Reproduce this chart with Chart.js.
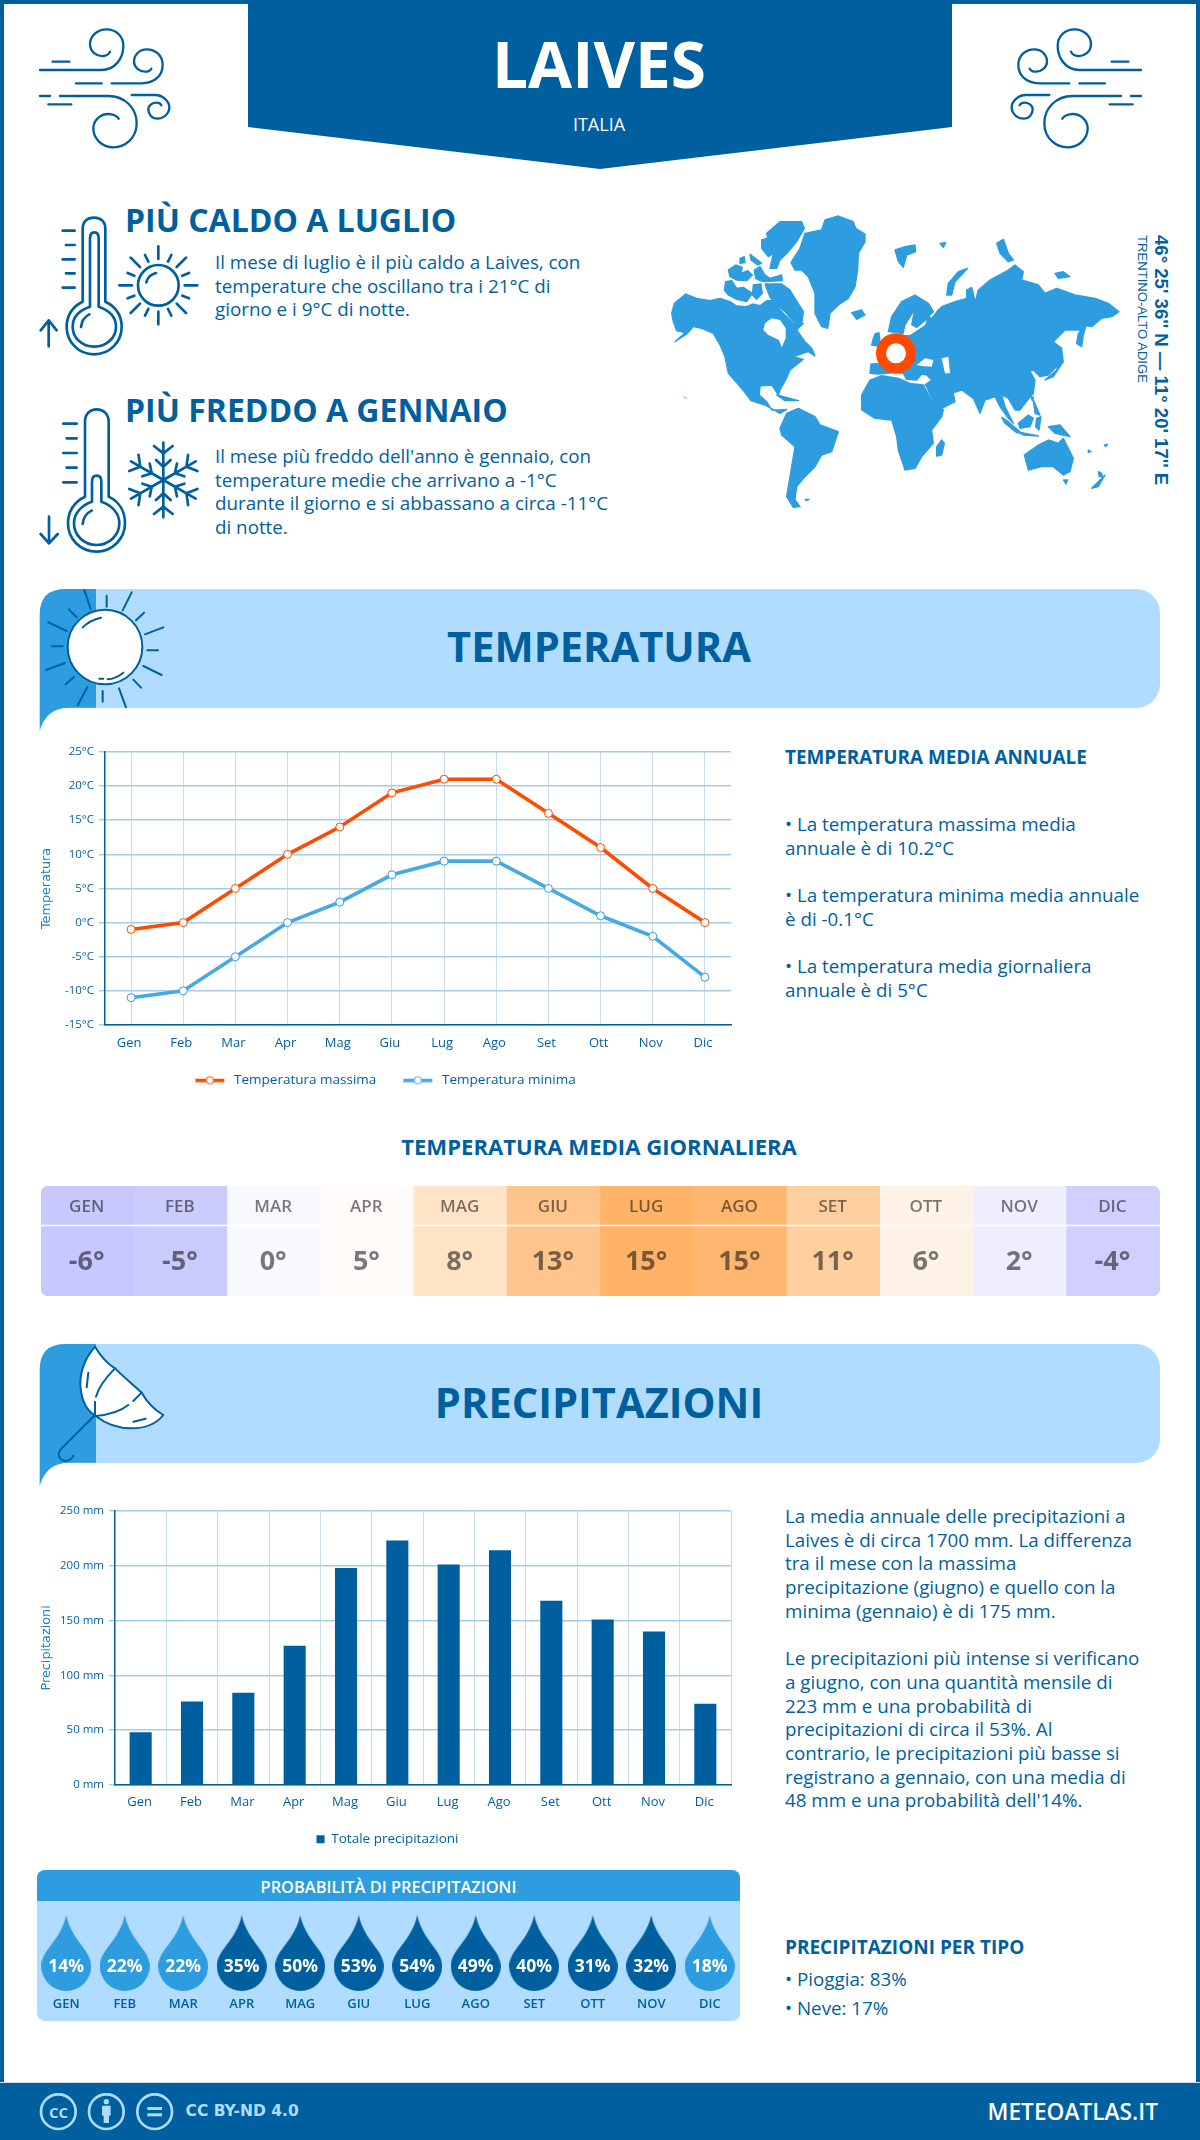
<!DOCTYPE html>
<html lang="it"><head><meta charset="utf-8"><title>Laives</title>
<script src="https://cdn.jsdelivr.net/npm/chart.js@4"></script>
<style>
html,body{margin:0;padding:0;background:#fff}
#page{position:relative;width:1200px;height:2140px;overflow:hidden;font-family:'Open Sans',sans-serif;color:#005f9e;background:#fff}
#frame{position:absolute;left:0;top:0;width:1200px;height:2140px;box-sizing:border-box;border:4px solid #005f9e;border-bottom:0}
.t{position:absolute;white-space:nowrap;line-height:1;transform:translateY(-50%)}
.c{left:-1px;width:1200px;text-align:center}
.b{position:absolute;white-space:nowrap;font-size:18.8px;line-height:23.7px}
.h{font-weight:700}
svg{position:absolute;overflow:visible}
canvas{position:absolute}
.ic{fill:none;stroke:#005f9e;stroke-linecap:round;stroke-linejoin:round}
.band{position:absolute;left:40px;width:1120px;height:119px;background:#b0dcff;border-radius:24px}
</style></head><body><div id="page">
<div id="frame"></div>
<svg style="left:248px;top:0" width="704" height="170"><polygon points="0,0 704,0 704,127 352,169 0,127" fill="#005f9e"/></svg>
<div class="t c h" style="top:64px;font-size:64px;color:#fff">LAIVES</div>
<div class="t c" style="top:124px;font-size:18px;color:#fff">ITALIA</div>

<svg id="w1" class="ic" style="left:30px;top:20px;stroke-width:7" width="150" height="140" viewBox="0 0 450 420"><g id="wind">
<path d="M30,150H215C255,150 280,115 280,78C280,45 255,28 230,28C200,28 180,50 180,72C180,95 200,110 220,108C230,107 238,100 240,95"/>
<path d="M68,125H118M138,190H215"/>
<path d="M245,190H335C375,190 398,165 398,135C398,105 375,88 350,88C328,88 312,105 312,125C312,142 330,155 345,155C355,155 362,150 364,146"/>
<path d="M30,228H60M55,253H124"/>
<path d="M90,228H235C285,228 320,265 320,310C320,355 285,382 250,382C215,382 190,355 190,325C190,300 212,282 235,282C250,282 262,290 266,296"/>
<path d="M305,225H375C400,225 418,245 418,262C418,282 400,296 382,296C365,296 355,282 355,268C355,255 368,248 380,248C386,248 392,252 394,256"/></g></svg>
<svg class="ic" style="left:1001px;top:20px;stroke-width:7;transform:scaleX(-1)" width="150" height="140" viewBox="0 0 450 420"><use href="#wind"/></svg>

<svg class="ic" style="left:30px;top:205px;stroke-width:8" width="180" height="165" viewBox="0 0 540 495">
<path d="M158,290V72C158,50 172,38 192,38C212,38 226,50 226,72V290C260,305 275,335 275,365C275,410 240,448 192,448C145,448 110,410 110,365C110,335 125,305 158,290Z"/>
<path d="M180,305V100C180,88 186,82 193,82C201,82 206,88 206,100V305C235,315 258,335 258,365C258,398 230,425 193,425C155,425 128,398 128,365C128,335 150,315 180,305Z"/>
<path d="M153,366C155,350 163,335 178,328M98,77H134M108,120H134M98,163H134M108,205H134M98,248H134M56,424V346M32,376L56,346L80,376"/>
<circle cx="385" cy="241" r="61"/>
<path d="M349,232C352,218 362,208 378,204M385,124V162M385,320V358M268,241H306M464,241H502M302,158L330,186M468,158L440,186M302,324L330,296M468,324L440,296M345,150L355,170M424,150L414,170M293,204L313,212M477,204L457,212M293,280L313,272M477,280L457,272M345,332L355,312M424,332L414,312"/>
</svg>
<svg class="ic" style="left:30px;top:400px;stroke-width:8" width="180" height="165" viewBox="0 0 540 495">
<path d="M165,290V65C165,42 180,28 200,28C220,28 236,42 236,65V290C268,305 285,335 285,370C285,418 245,455 200,455C152,455 114,418 114,370C114,335 132,305 165,290Z"/>
<path d="M186,305V245C186,232 192,227 200,227C208,227 214,232 214,245V305C245,315 268,340 268,370C268,405 238,435 200,435C160,435 132,405 132,370C132,340 155,315 186,305Z"/>
<path d="M158,372C160,352 168,340 185,332M100,71H140M110,115H140M100,159H140M110,203H140M100,247H140M57,350V430M32,402L57,430L83,402"/>
<g id="arm"><path d="M400,240V128M372,138L400,160L428,138M378,180L400,200L422,180"/></g>
<use href="#arm" transform="rotate(60 400 240)"/><use href="#arm" transform="rotate(120 400 240)"/><use href="#arm" transform="rotate(180 400 240)"/><use href="#arm" transform="rotate(240 400 240)"/><use href="#arm" transform="rotate(300 400 240)"/>
</svg>

<div class="t h" style="left:125px;top:220px;font-size:32px">PIÙ CALDO A LUGLIO</div>
<div class="b" style="left:215px;top:251px">Il mese di luglio è il più caldo a Laives, con<br>temperature che oscillano tra i 21°C di<br>giorno e i 9°C di notte.</div>
<div class="t h" style="left:125px;top:410px;font-size:32px">PIÙ FREDDO A GENNAIO</div>
<div class="b" style="left:215px;top:445px">Il mese più freddo dell'anno è gennaio, con<br>temperature medie che arrivano a -1°C<br>durante il giorno e si abbassano a circa -11°C<br>di notte.</div>

<svg style="left:665px;top:210px" width="460" height="305" viewBox="0 0 1380 915"><g fill="#2e9ddf" stroke="#2e9ddf" stroke-width="4" stroke-linejoin="round">
<path d="M20,310 28,280 62,252 95,265 135,272 165,265 195,275 215,288 245,290 262,282 285,287 305,272 325,272 345,300 385,340 415,340 395,360 420,395 440,415 450,438 430,425 385,440 415,448 375,480 362,510 345,540 340,555 320,525 285,528 283,555 305,575 320,600 345,600 365,598 345,610 300,585 258,572 240,548 212,515 190,490 180,440 165,405 145,370 110,355 85,350 65,372 30,395 60,368 35,362 25,335Z"/>
<path d="M190,180 212,165 232,172 228,190 248,182 262,195 245,212 215,210 195,200Z M182,215 200,212 215,235 235,232 262,250 245,275 215,268 190,255 178,240Z M225,145 238,140 240,158 225,160Z M255,133 275,148 290,160 278,165 258,150Z M268,180 285,170 300,195 315,205 350,195 352,212 300,215 285,212 272,205Z M265,225 288,222 292,250 275,268 262,255Z M300,222 350,222 375,240 390,265 415,305 410,345 385,335 360,305 340,290 315,262Z"/>
<path d="M290,90 305,85 325,130 310,140 290,115Z M305,70 345,35 410,35 418,55 395,95 370,125 345,150 335,175 315,175 325,130 310,90Z"/>
<path d="M378,158 405,115 420,70 470,60 480,30 520,18 565,35 572,55 600,72 600,95 580,130 578,180 570,230 550,265 520,285 495,310 488,355 470,350 450,310 450,250 430,200 410,180 390,180Z"/>
<path d="M560,308 590,300 600,315 575,328Z M690,120 720,110 750,105 752,125 725,135 715,172 700,155Z M825,100 842,98 835,112Z M995,100 1015,88 1030,130 1045,150 1030,155 1005,130Z M1170,190 1195,185 1215,200 1180,205Z M845,255 850,220 880,185 908,175 870,215 860,255Z"/>
<path d="M670,365 680,320 710,275 750,255 790,280 805,305 790,320 800,325 820,300 830,290 870,275 905,265 905,240 920,232 925,250 930,278 940,240 975,210 1030,180 1050,165 1075,185 1070,210 1120,225 1140,250 1175,235 1230,255 1290,265 1330,280 1362,305 1340,320 1310,325 1280,350 1250,345 1262,340 1250,360 1200,360 1165,395 1190,415 1185,460 1150,495 1125,500 1105,480 1095,485 1110,510 1105,550 1080,580 1065,600 1050,600 1030,565 1010,555 1020,590 1045,640 1030,625 1005,590 990,560 960,570 945,610 925,565 890,540 860,550 835,525 865,550 870,575 825,598 810,590 785,530 780,525 800,510 785,495 770,492 755,510 725,508 715,490 690,488 640,492 615,490 618,462 660,460 650,420 660,395 690,380 735,375 700,368Z"/>
<path d="M590,555 615,510 650,497 700,505 735,520 775,525 810,592 835,600 830,620 800,660 805,700 770,740 750,775 720,780 700,720 695,680 680,630 630,625 590,600Z"/>
<path d="M830,690 838,700 830,735 815,738 815,710Z M630,372 642,368 645,395 665,395 650,410 620,405 625,385Z"/>
<path d="M345,655 365,610 400,595 450,620 465,645 520,665 500,725 470,735 450,770 420,800 395,830 390,870 405,890 385,892 365,860 375,800 390,710 350,675Z"/>
<path d="M335,555 375,565 400,572 360,572Z M1078,735 1120,705 1150,690 1180,700 1195,685 1225,745 1215,785 1195,795 1165,770 1130,770 1090,780Z M1280,835 1305,810 1320,795 1300,830Z M1300,785 1310,790 1312,800 1303,800Z M1195,810 1208,810 1203,822Z"/>
<path d="M1010,622 1030,635 1070,670 1055,668 1020,640Z M1055,665 1120,678 1075,675Z M1060,640 1090,615 1105,625 1095,650 1065,655Z M1115,625 1128,620 1122,660 1112,650Z M1150,650 1185,645 1215,680 1170,670Z M1105,570 1125,615 1110,610Z M1140,510 1175,480 1190,420 1195,455 1165,500Z M1235,400 1240,370 1265,340 1255,375 1250,410Z M1098,560 1106,562 1102,572Z M1270,720 1278,725 1270,727Z M1318,705 1328,703 1322,710Z M420,868 432,868 425,872Z"/>
</g><path d="M50,555 68,565 62,568Z" fill="#2e9ddf" fill-opacity=".5"/><g fill="#fff">
<path d="M300,340 320,325 345,330 362,355 362,385 350,412 342,390 310,375 295,360Z"/>
<path d="M755,465 780,445 805,450 800,470 770,468Z M830,445 850,440 855,490 840,490Z M715,375 722,345 745,308 738,345 755,355 785,330 780,345 750,365 735,375Z"/>
</g><circle cx="693" cy="430" r="45" fill="#fff" stroke="#ff4a00" stroke-width="30"/></svg>

<div style="position:absolute;left:1161px;top:235px;transform-origin:0 0;transform:rotate(90deg) translateY(-50%);white-space:nowrap;font:bold 18.6px 'Liberation Sans',sans-serif;line-height:1">46° 25' 36'' N — 11° 20' 17'' E</div>
<div style="position:absolute;left:1142px;top:235px;transform-origin:0 0;transform:rotate(90deg) translateY(-50%);white-space:nowrap;font:13.1px 'Liberation Sans',sans-serif;line-height:1">TRENTINO-ALTO ADIGE</div>

<div class="band" style="top:589px"></div>
<svg style="left:35px;top:585px" width="140" height="150" viewBox="0 0 420 450">
<path d="M14,438V90Q14,12 90,12H183V368H100C55,368 25,395 14,438Z" fill="#2e9ddf"/>
<circle cx="210" cy="186" r="112" fill="#fff" stroke="#005f9e" stroke-width="6"/>
<path class="ic" style="stroke-width:6" d="M148,15L167,72M215,32V65M290,22L263,76M327,83L303,106M385,127L330,148M337,196H369M380,270L325,243M318,308L295,284M273,367L252,310M203,350V318M128,361L157,306M92,298L117,276M33,255L90,234M50,184H83M40,112L95,138M102,73L125,97M143,127C160,110 180,102 198,98M193,281H205M218,283C235,282 250,275 265,263"/></svg>
<div class="t c h" style="top:647px;font-size:41.6px">TEMPERATURA</div>

<canvas id="tempChart" width="722" height="357" style="left:23px;top:740px;width:722px;height:357px"></canvas>

<div class="t h" style="left:785px;top:757px;font-size:18.9px">TEMPERATURA MEDIA ANNUALE</div>
<div class="b" style="left:785px;top:813px">• La temperatura massima media<br>annuale è di 10.2°C</div>
<div class="b" style="left:785px;top:884px">• La temperatura minima media annuale<br>è di -0.1°C</div>
<div class="b" style="left:785px;top:955px">• La temperatura media giornaliera<br>annuale è di 5°C</div>

<div class="t c h" style="top:1146px;font-size:22.1px">TEMPERATURA MEDIA GIORNALIERA</div>
<canvas id="heatChart" width="1119" height="110" style="left:41px;top:1186px;width:1119px;height:110px"></canvas>

<div class="band" style="top:1344px"></div>
<svg style="left:35px;top:1340px" width="140" height="150" viewBox="0 0 420 450">
<path d="M14,438V90Q14,12 90,12H183V368H100C55,368 25,395 14,438Z" fill="#2e9ddf"/>
<path d="M180,20C145,60 130,110 138,155C143,190 160,215 182,228C210,250 250,265 290,265C330,265 365,250 385,225C360,210 335,185 320,158C295,135 260,105 240,85C215,70 195,45 180,20Z" fill="#fff" stroke="#005f9e" stroke-width="6" stroke-linejoin="round"/>
<path class="ic" style="stroke-width:6" d="M240,85C210,115 190,145 183,170M320,158L295,183M180,185V225M182,228C215,225 255,215 280,195M180,225L80,325C65,340 70,358 88,362C102,365 112,355 115,347M160,98L155,142M295,245L332,236"/></svg>
<div class="t c h" style="top:1403px;font-size:41.6px">PRECIPITAZIONI</div>

<canvas id="rainChart" width="715" height="357" style="left:30px;top:1499px;width:715px;height:357px"></canvas>

<div class="b" style="left:785px;top:1505px">La media annuale delle precipitazioni a<br>Laives è di circa 1700 mm. La differenza<br>tra il mese con la massima<br>precipitazione (giugno) e quello con la<br>minima (gennaio) è di 175 mm.<br><br>Le precipitazioni più intense si verificano<br>a giugno, con una quantità mensile di<br>223 mm e una probabilità di<br>precipitazioni di circa il 53%. Al<br>contrario, le precipitazioni più basse si<br>registrano a gennaio, con una media di<br>48 mm e una probabilità dell'14%.</div>

<div style="position:absolute;left:37px;top:1870px;width:703px;height:151px;background:#b0dcff;border-radius:8px;overflow:hidden"><div style="height:31px;background:#2e9ddf"></div></div>
<div class="t" style="left:37px;width:703px;text-align:center;top:1887px;font-size:16.4px;font-weight:600;color:#fff">PROBABILITÀ DI PRECIPITAZIONI</div>
<canvas id="dropChart" width="702" height="120" style="left:37px;top:1901px;width:702px;height:120px"></canvas>

<div class="t h" style="left:785px;top:1947px;font-size:19px">PRECIPITAZIONI PER TIPO</div>
<div class="b" style="left:785px;top:1965px;line-height:29px">• Pioggia: 83%<br>• Neve: 17%</div>

<div style="position:absolute;left:0;top:2082px;width:1200px;height:58px;background:#005f9e;border-top:1px solid #d5dde3;box-sizing:border-box"></div>
<svg style="left:30px;top:2085px" width="140" height="55" viewBox="0 0 420 165"><g fill="none" stroke="#aedcff" stroke-width="8"><circle cx="85" cy="80" r="52"/><circle cx="229" cy="80" r="52"/><circle cx="374" cy="80" r="52"/></g>
<g fill="#aedcff"><circle cx="229" cy="50" r="8"/><rect x="216" y="62" width="26" height="30" rx="3"/><rect x="221" y="88" width="16" height="26"/><rect x="352" y="66" width="44" height="9"/><rect x="352" y="85" width="44" height="9"/></g></svg>
<div class="t" style="left:46px;width:25px;text-align:center;top:2112px;font-size:15px;font-weight:700;color:#aedcff">CC</div>
<div class="t" style="left:185.5px;top:2112px;font:bold 15.5px 'DejaVu Sans',sans-serif;line-height:1;color:#aedcff">CC BY-ND 4.0</div>
<div class="t" style="right:42px;top:2112px;font-size:22.7px;font-weight:600;color:#fff">METEOATLAS.IT</div>
</div>
<script>
const months=['Gen','Feb','Mar','Apr','Mag','Giu','Lug','Ago','Set','Ott','Nov','Dic'];
const tempMax=[-1,0,5,10,14,19,21,21,16,11,5,0];
const tempMin=[-11,-10,-5,0,3,7,9,9,5,1,-2,-8];
const tempMean=[-6,-5,0,5,8,13,15,15,11,6,2,-4];
const cellColors=['#c8c7ff','#cccbff','#f8f8ff','#fffbf8','#ffe3c7','#ffc58c','#ffb366','#ffb76f','#ffd09f','#fff3e7','#efeeff','#d0cfff'];
const rainfall=[48,76,84,127,198,223,201,214,168,151,140,74];
const rainProb=[14,22,22,35,50,53,54,49,40,31,32,18];
const BLUE='#005f9e',SKY='#2e9ddf',ORANGE='#ff4a00',SKYLINE='#45a9e4';
const GRIDH='#a9cce5',GRIDV='#c6dcec',TITLE='#1f80c4';
const F="'Open Sans',sans-serif";
Chart.defaults.animation=false;
Chart.defaults.responsive=false;
Chart.defaults.font.family=F;
Chart.defaults.color=BLUE;

function legendIcon(col){
  const lead=17;
  const c=document.createElement('canvas');c.width=lead+29+3;c.height=11;
  const x=c.getContext('2d');x.fillStyle=col;x.fillRect(lead,4,29,3.5);
  x.beginPath();x.arc(lead+14.5,5.5,3.7,0,7);x.fillStyle='#fff';x.fill();x.strokeStyle=col;x.lineWidth=1;x.stroke();
  return c;
}
function yAxisBase(title,w,titlePad,cb,step,min,max){
  return {min,max,afterFit(s){s.width=w},
    title:{display:true,text:title,color:TITLE,font:{family:"'DejaVu Sans',sans-serif",size:12.8},padding:{top:titlePad,bottom:0}},
    ticks:{stepSize:step,padding:5,color:BLUE,font:{size:11.5},callback:cb},
    grid:{color:GRIDH,lineWidth:1.5,tickLength:6,tickColor:GRIDH},
    border:{color:BLUE,width:1.5}};
}
function xAxisBase(h,offsetGrid,pad,labelShift){
  return {afterFit(s){s.height=h},
    ticks:{padding:pad,labelOffset:labelShift,color:BLUE,font:{size:13},maxRotation:0,autoSkip:false},
    grid:{color:GRIDV,lineWidth:1,offset:offsetGrid,drawTicks:false},
    border:{color:BLUE,width:1.5}};
}
new Chart(document.getElementById('tempChart'),{type:'line',
  data:{labels:months,datasets:[
    {label:'Temperatura massima',data:tempMax,borderColor:ORANGE,borderWidth:3.6,tension:0,pointRadius:4,pointBorderWidth:1,pointBackgroundColor:'#fff',pointBorderColor:ORANGE,pointStyle:'circle'},
    {label:'Temperatura minima',data:tempMin,borderColor:SKYLINE,borderWidth:3.6,tension:0,pointRadius:4,pointBorderWidth:1,pointBackgroundColor:'#fff',pointBorderColor:SKY,pointStyle:'circle'}]},
  options:{layout:{padding:{top:10,right:14}},
    plugins:{legend:{position:'bottom',onClick:null,labels:{color:BLUE,font:{size:13.5},padding:10,usePointStyle:true,pointStyleWidth:49,boxHeight:11,
        generateLabels(ch){return ch.data.datasets.map((d,i)=>({text:d.label,datasetIndex:i,fontColor:BLUE,lineWidth:0,pointStyle:legendIcon(d.borderColor)}))}}},
      tooltip:{enabled:false}},
    scales:{x:Object.assign(xAxisBase(38.5,false,10.5,-2),{offset:true}),y:yAxisBase('Temperatura',82,16,v=>v+'°C',5,-15,25)}}});

new Chart(document.getElementById('rainChart'),{type:'bar',
  data:{labels:months,datasets:[{label:'Totale precipitazioni',data:rainfall,backgroundColor:BLUE,barPercentage:.43,categoryPercentage:1}]},
  options:{layout:{padding:{top:9.5}},
    plugins:{legend:{position:'bottom',labels:{color:BLUE,font:{size:13.5},padding:10,usePointStyle:true,pointStyle:'rect',boxWidth:8,boxHeight:8}},tooltip:{enabled:false}},
    scales:{x:xAxisBase(37.6,true,9.5,-1),y:yAxisBase('Precipitazioni',85,9,v=>v+' mm',50,0,250),
      spacer:{position:'right',afterFit(s){s.width=14},ticks:{display:false},grid:{display:false},border:{display:false}}}}});

const heatText={id:'heatText',afterDatasetsDraw(ch){
  const c=ch.ctx,m=ch.getDatasetMeta(0);
  c.save();c.strokeStyle='#fff';c.lineWidth=1.5;c.beginPath();c.moveTo(ch.chartArea.left,39.5);c.lineTo(ch.chartArea.right,39.5);c.stroke();
  c.textAlign='center';c.textBaseline='middle';c.fillStyle='rgba(0,0,0,.52)';
  m.data.forEach((b,i)=>{
    c.font="600 17px "+F;c.fillText(months[i].toUpperCase(),b.x-1,21);
    c.font="700 27px "+F;c.fillText(tempMean[i]+'°',b.x-1,76);
  });c.restore();}};
new Chart(document.getElementById('heatChart'),{type:'bar',plugins:[heatText],
  data:{labels:months,datasets:[{label:'Temperatura media giornaliera',data:tempMean.map(()=>[0,1]),backgroundColor:cellColors,barPercentage:1,categoryPercentage:1,borderSkipped:false,
    borderRadius:ctx=>ctx.dataIndex===0?{topLeft:8,bottomLeft:8,topRight:0,bottomRight:0}:ctx.dataIndex===11?{topRight:8,bottomRight:8,topLeft:0,bottomLeft:0}:0}]},
  options:{plugins:{legend:{display:false},tooltip:{enabled:false}},
    scales:{x:{display:false},y:{display:false,min:0,max:1}}}});

function dropIcon(col){
  const c=document.createElement('canvas');c.width=50;c.height=76;
  const x=c.getContext('2d');x.fillStyle=col;x.beginPath();x.moveTo(25,0);x.bezierCurveTo(30,25,50,35,50,51);x.arc(25,51,25,0,Math.PI);x.bezierCurveTo(0,35,20,25,25,0);x.fill();
  return c;
}
const dropLight=dropIcon(SKY),dropDark=dropIcon(BLUE);
const dropText={id:'dropText',afterDatasetsDraw(ch){
  const c=ch.ctx;c.save();c.textAlign='center';c.textBaseline='middle';c.fillStyle='#fff';c.font="700 17.5px "+F;
  ch.getDatasetMeta(0).data.forEach((p,i)=>c.fillText(rainProb[i]+'%',p.x,p.y+14));c.restore();}};
new Chart(document.getElementById('dropChart'),{type:'line',plugins:[dropText],
  data:{labels:months.map(m=>m.toUpperCase()),datasets:[{label:'Probabilità di precipitazioni',data:rainProb,showLine:false,clip:false,
    pointStyle:rainProb.map(v=>v<30?dropLight:dropDark),pointRadius:25}]},
  options:{layout:{autoPadding:false,padding:{top:14}},
    plugins:{legend:{display:false},tooltip:{enabled:false}},
    scales:{y:{display:false,min:-100000,max:100000},
      x:{offset:true,afterFit(s){s.height=30},grid:{display:false,drawTicks:false},border:{display:false},
        ticks:{padding:5,color:BLUE,maxRotation:0,autoSkip:false,font:{size:13,weight:'600'}}}}}});
</script></body></html>
